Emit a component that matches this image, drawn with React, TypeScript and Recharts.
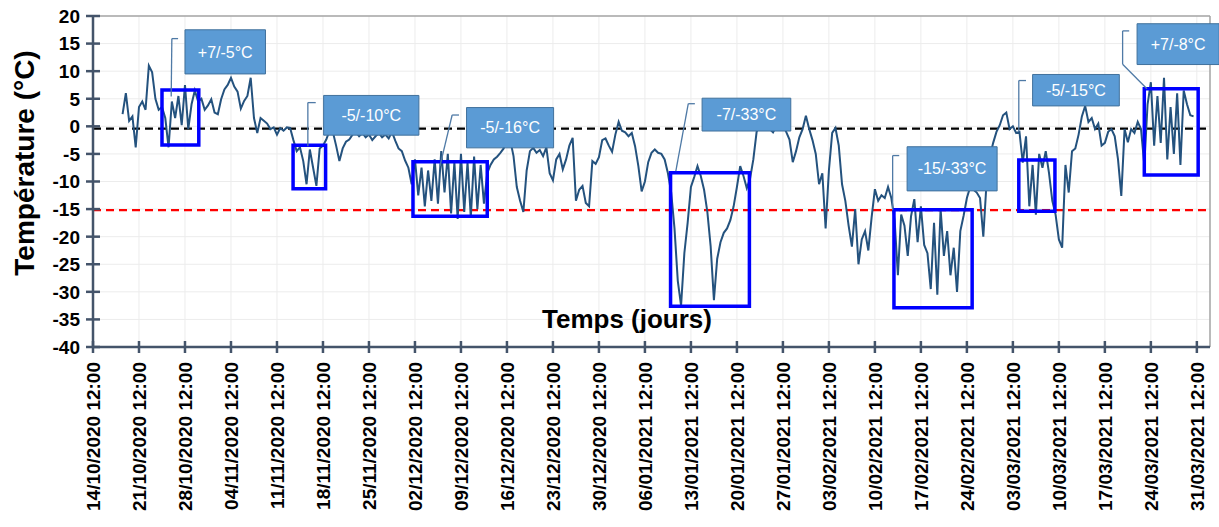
import React from 'react';
import {
  LineChart,
  Line,
  XAxis,
  YAxis,
  CartesianGrid,
  ReferenceLine,
  ReferenceArea,
  Customized,
} from 'recharts';

// temps en jours depuis le 14/10/2020 12:00, une mesure toutes les 12 h
const DEBUT = 4.5; // 19/10/2020 00:00
const PAS = 0.5;

const octobre = [
  2.2, 6.0, 1.0, 1.8, -3.8, 3.5, 4.5, 3.0, 11.0, 9.8, 5.0, 3.0, 3.5, 1.5, -3.8, 4.5,
  1.5, 5.5, 0.2, 7.5, -0.5, 4.0, 6.5, 4.5, 5.0, 3.0,
];
const novembre = [
  3.8, 4.9, 2.5, 2.2, 4.9, 6.7, 7.5, 8.8, 7.2, 6.3, 3.2, 4.6, 5.5, 8.8,
  1.5, -1.2, 1.5, 1.0, 0.5, -0.5, -0.2, -1.5, -0.3, -0.8, -0.2, -0.3,
  -2.5, -4.5, -3.8, -6.3, -10.5, -4.2, -7.5, -10.8, -4.0, -3.5, -2.4,
  -0.8, -1.0, -3.5, -6.3, -4.0, -2.8, -2.4, -1.5, -1.0, -1.8, -1.2, -2.0, -1.5, -2.5,
  -1.8, -1.2, -2.0, -1.5, -2.2, -1.0, -2.6, -4.0, -4.5,
];
const decembre = [
  -6.2, -7.5, -10.5, -6.0, -12.5, -7.5, -14.5, -8.0, -13.5, -6.0, -14.0, -4.5, -12.0,
  -5.0, -15.8, -6.5, -16.8, -5.0, -15.5, -6.5, -16.5, -5.5, -15.0, -7.0, -14.0, -8.5,
  -7.0, -6.0, -5.5, -4.8, -4.0, -2.5, -2.5, -5.4, -11.0, -13.5, -15.5, -8.0, -4.5,
  -3.9, -4.8, -4.3, -5.4, -3.8, -8.5, -9.8, -6.0, -5.0, -7.8, -6.0, -3.5, -2.1,
  -13.5, -11.5, -10.8, -13.9, -14.5, -6.3, -6.8, -5.6, -2.5, -2.2,
];
const janvier = [
  -3.5, -4.6, -1.5, 0.8, -0.8, -1.1, -1.8, -1.2, -3.6, -7.2, -11.8, -10.0, -6.5, -4.8,
  -4.2, -4.8, -5.0, -6.0, -8.5, -12.0,
  -18.5, -28.0, -32.5, -23.0, -17.5, -11.0, -9.2, -7.2, -9.0, -11.5, -15.5, -21.7,
  -31.5, -24.0, -21.0, -19.3, -18.5, -17.0, -14.5, -11.0,
  -7.2, -9.0, -11.2, -9.5, -6.0, -1.0, 0.5, 1.0, 0.5, -0.5, -1.1, 0.0, 0.5, 0.0,
  -1.0, -2.4, -6.5, -4.5, -2.0, -0.5, 1.9, -0.5,
];
const fevrier = [
  -2.5, -5.0, -10.5, -8.5, -18.5, -8.0, -1.2, -0.3, -3.5, -10.5, -13.5, -18.0, -21.8,
  -15.0, -25.0, -20.5, -19.0, -22.5, -16.5, -11.4,
  -13.5, -12.5, -13.0, -11.0, -13.0, -17.0, -27.0, -16.0, -18.0, -23.5, -16.3, -13.2,
  -21.0, -14.5, -21.5, -23.0, -29.5, -17.5, -30.5, -15.0,
  -23.5, -19.0, -27.0, -22.0, -30.0, -19.0, -16.2, -13.0, -11.0, -11.5, -12.0, -13.0,
  -20.0, -10.0, -5.5, -3.0,
];
const mars = [
  -1.0, 0.2, 2.0, 2.5, -0.5, 0.0, -1.2, -1.0, -6.6, -1.8, -14.5, -7.0, -16.0, -5.0,
  -7.5, -4.5, -8.5, -13.5, -16.0, -20.5,
  -22.0, -7.0, -12.0, -4.5, -4.0, -1.5, 1.8, 3.7, 0.8, 1.5, -0.5, 0.5, -3.5, -3.0,
  -1.0, -0.5, -1.8, -6.0, -12.6, -0.5,
  -2.9, -0.5, -1.2, 0.8, -0.5, -7.0, 4.0, 8.0, -3.5, 5.5, -3.0, 8.8, -6.0, 3.5, -5.0,
  6.0, -7.0, 6.5, 4.0, 2.0, 1.8,
];

const joursTicks = [0, 7, 14, 21, 28, 35, 42, 49, 56, 63, 70, 77, 84, 91, 98, 105, 112, 119, 126, 133, 140, 147, 154, 161, 168];
const etiquettesTicks = [
  '14/10/2020 12:00', '21/10/2020 12:00', '28/10/2020 12:00', '04/11/2020 12:00',
  '11/11/2020 12:00', '18/11/2020 12:00', '25/11/2020 12:00', '02/12/2020 12:00',
  '09/12/2020 12:00', '16/12/2020 12:00', '23/12/2020 12:00', '30/12/2020 12:00',
  '06/01/2021 12:00', '13/01/2021 12:00', '20/01/2021 12:00', '27/01/2021 12:00',
  '03/02/2021 12:00', '10/02/2021 12:00', '17/02/2021 12:00', '24/02/2021 12:00',
  '03/03/2021 12:00', '10/03/2021 12:00', '17/03/2021 12:00', '24/03/2021 12:00',
  '31/03/2021 12:00',
];
const yTicks = [-40, -35, -30, -25, -20, -15, -10, -5, 0, 5, 10, 15, 20];

const seuilZero = -0.4;
const seuilFroid = -15.2;

// cadres bleus autour des périodes
const zones = [
  { x1: 10.5, x2: 16.1, y1: -3.4, y2: 6.6 },
  { x1: 30.45, x2: 35.4, y1: -11.3, y2: -3.45 },
  { x1: 48.7, x2: 60.0, y1: -16.3, y2: -6.4 },
  { x1: 87.9, x2: 99.9, y1: -32.6, y2: -8.4 },
  { x1: 121.9, x2: 133.8, y1: -32.9, y2: -15.1 },
  { x1: 140.9, x2: 146.4, y1: -15.4, y2: -6.1 },
  { x1: 160.0, x2: 168.2, y1: -8.8, y2: 6.8 },
];

// bulles de texte et leurs traits de rappel
const bulles = [
  { texte: '+7/-5°C', x1: 14.0, x2: 26.25, y1: 9.5, y2: 17.5, trait: [[11.9, 5.4], [12.0, 15.9], [12.95, 15.9]] },
  { texte: '-5/-10°C', x1: 35.1, x2: 49.6, y1: -1.6, y2: 5.6, trait: [[32.7, -3.6], [32.7, 4.3], [33.9, 4.3]] },
  { texte: '-5/-16°C', x1: 56.85, x2: 70.1, y1: -3.9, y2: 3.4, trait: [[52.8, -7.2], [54.66, 2.05], [55.7, 2.05]] },
  { texte: '-7/-33°C', x1: 92.7, x2: 106.2, y1: -0.85, y2: 5.1, trait: [[88.7, -8.1], [90.6, 4.1], [91.6, 4.1]] },
  { texte: '-15/-33°C', x1: 123.9, x2: 137.6, y1: -11.7, y2: -3.7, trait: [[121.7, -15.2], [121.7, -5.3], [122.7, -5.3]] },
  { texte: '-5/-15°C', x1: 143.0, x2: 156.2, y1: 3.7, y2: 9.4, trait: [[140.9, -1.0], [140.9, 8.3], [142.0, 8.3]] },
  { texte: '+7/-8°C', x1: 158.9, x2: 171.4, y1: 11.2, y2: 18.6, trait: [[160.4, 6.8], [156.7, 11.25], [156.7, 17.3], [157.7, 17.3]] },
];

const mesures = [...octobre, ...novembre, ...decembre, ...janvier, ...fevrier, ...mars];
const data = mesures.map((v, i) => ({ t: DEBUT + i * PAS, temp: v }));

const POLICE = '"Liberation Sans", Arial, sans-serif';
const AXE = '#44546A';

const XTick = (props: any) => {
  const { x, y, payload } = props;
  const idx = joursTicks.indexOf(payload.value);
  return (
    <g>
      <line x1={x} x2={x} y1={y - 6} y2={y + 6} stroke={AXE} strokeWidth={2.5} />
      <text
        transform={`translate(${x},${y + 15}) rotate(-90)`}
        textAnchor="end"
        dy="0.36em"
        fontSize={19}
        fontWeight="bold"
        fontFamily={POLICE}
        fill="#000"
      >
        {etiquettesTicks[idx]}
      </text>
    </g>
  );
};

const YTick = (props: any) => {
  const { x, y, payload } = props;
  return (
    <g>
      <line x1={x - 7} x2={x + 7} y1={y} y2={y} stroke={AXE} strokeWidth={2.5} />
      <text
        x={x - 13}
        y={y}
        dy="0.36em"
        textAnchor="end"
        fontSize={19}
        fontWeight="bold"
        fontFamily={POLICE}
        fill="#000"
      >
        {payload.value}
      </text>
    </g>
  );
};

const Titres = () => (
  <g>
    <text
      transform="translate(24,163) rotate(-90)"
      textAnchor="middle"
      dy="0.36em"
      fontSize={28}
      fontWeight="bold"
      fontFamily={POLICE}
      fill="#000"
    >
      Température (°C)
    </text>
    <text
      x={627}
      y={328}
      textAnchor="middle"
      fontSize={26}
      fontWeight="bold"
      fontFamily={POLICE}
      fill="#000"
    >
      Temps (jours)
    </text>
  </g>
);

export default function App() {
  return (
    <div style={{ position: 'absolute', left: 0, top: 0, width: 1219, height: 527, background: '#fff' }}>
      <LineChart width={1219} height={527} data={data} margin={{ top: 16, right: 9, bottom: 0, left: 0 }}>
        <CartesianGrid stroke="#ECECEC" strokeWidth={1} />
        <XAxis
          dataKey="t"
          type="number"
          domain={[0, 170]}
          ticks={joursTicks}
          interval={0}
          height={180}
          tickSize={0}
          tickMargin={0}
          tickLine={false}
          axisLine={{ stroke: AXE, strokeWidth: 2.5 }}
          tick={<XTick />}
        />
        <YAxis
          type="number"
          domain={[-40, 20]}
          ticks={yTicks}
          interval={0}
          width={93}
          tickSize={0}
          tickMargin={0}
          tickLine={false}
          axisLine={{ stroke: AXE, strokeWidth: 2.5 }}
          tick={<YTick />}
        />
        <ReferenceLine y={20} stroke="#A6A6A6" strokeWidth={1.5} />
        <ReferenceLine x={170} stroke="#A6A6A6" strokeWidth={1.5} />
        <ReferenceLine y={seuilZero} stroke="#000" strokeWidth={2.2} strokeDasharray="8 5" />
        <ReferenceLine y={seuilFroid} stroke="#FF0000" strokeWidth={2.2} strokeDasharray="8 5" />
        <Line
          type="linear"
          dataKey="temp"
          stroke="#24527E"
          strokeWidth={2}
          dot={false}
          isAnimationActive={false}
        />
        {zones.map((z, i) => (
          <ReferenceArea
            key={`z${i}`}
            x1={z.x1}
            x2={z.x2}
            y1={z.y1}
            y2={z.y2}
            fill="none"
            fillOpacity={0}
            stroke="#0000FF"
            strokeWidth={3.5}
            ifOverflow="visible"
            zIndex={600}
          />
        ))}
        {bulles.map((b, i) =>
          b.trait.slice(1).map((p, j) => (
            <ReferenceLine
              key={`t${i}-${j}`}
              segment={[
                { x: b.trait[j][0], y: b.trait[j][1] },
                { x: p[0], y: p[1] },
              ]}
              stroke="#4F7AA6"
              strokeWidth={1.3}
              ifOverflow="visible"
              zIndex={600}
            />
          ))
        )}
        {bulles.map((b, i) => (
          <ReferenceArea
            key={`b${i}`}
            x1={b.x1}
            x2={b.x2}
            y1={b.y1}
            y2={b.y2}
            fill="#5B9BD5"
            fillOpacity={1}
            stroke="#41719C"
            strokeWidth={1}
            ifOverflow="visible"
            zIndex={700}
            label={{ value: b.texte, position: 'center', fill: '#FFFFFF', fontSize: 16, fontFamily: POLICE }}
          />
        ))}
        <Customized component={Titres} />
      </LineChart>
    </div>
  );
}
